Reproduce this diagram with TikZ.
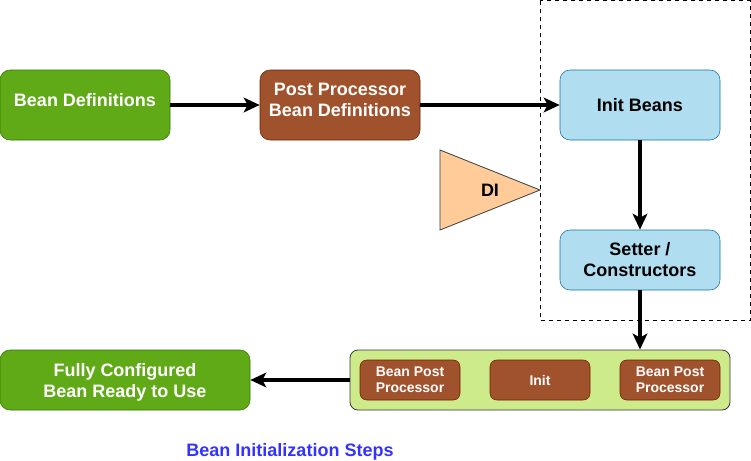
\documentclass[tikz,border=0pt]{standalone}
\usepackage{fontspec}
\setmainfont{Liberation Sans}
\usetikzlibrary{arrows.meta}
\definecolor{gfill}{HTML}{60A917}
\definecolor{gline}{HTML}{2D7600}
\definecolor{bfill}{HTML}{A0522D}
\definecolor{bline}{HTML}{6D1F00}
\definecolor{lbfill}{HTML}{B1DDF0}
\definecolor{lbline}{HTML}{10739E}
\definecolor{lgfill}{HTML}{CDEB8B}
\definecolor{lgline}{HTML}{36393D}
\definecolor{orfill}{HTML}{FFCC99}
\definecolor{titleblue}{HTML}{3333FF}
\tikzset{
  x=0.75pt, y=-0.75pt,
  bigfont/.style={font=\bfseries\fontsize{13.5}{15.75}\selectfont},
  box/.style={rounded corners=7.5pt, align=center, bigfont, inner sep=0pt},
  greenbox/.style={box, draw=gline, fill=gfill, text=white},
  brownbox/.style={box, draw=bline, fill=bfill, text=white},
  bluebox/.style={box, draw=lbline, fill=lbfill, text=black},
  whitetext/.style={bigfont, text=white, align=center, inner sep=0pt},
  smallbrown/.style={brownbox, rounded corners=5pt, font=\bfseries\fontsize{10.5}{12}\selectfont},
  conn/.style={line width=2.6pt, -{Stealth[length=12pt, width=11pt, inset=3pt]}},
}
\begin{document}
\begin{tikzpicture}
\useasboundingbox (0,0) rectangle (751,461);
% dashed container
\draw[dashed, line width=0.6pt] (540,0.5) rectangle (750,320);
\node[greenbox, minimum width=127.5pt, minimum height=52.5pt] (bd) at (85,105) {};
\node[whitetext] (bdt) at ([yshift=3.5pt]bd.center) {Bean Definitions};
\node[brownbox, minimum width=120pt, minimum height=52.5pt] (pp) at (340,105) {};
\node[whitetext] (ppt) at ([yshift=3.5pt]pp.center) {Post Processor\\Bean Definitions};
\node[bluebox, minimum width=120pt, minimum height=52.5pt] (ib) at (640,105) {Init Beans};
\node[bluebox, minimum width=120pt, minimum height=45pt] (sc) at (640,260) {Setter /\\Constructors};
% DI triangle
\coordinate (ditop) at (440,150);
\coordinate (dibot) at (440,230);
\coordinate (ditip) at (540,190);
\draw[draw=lgline, fill=orfill, line width=0.6pt] (ditop) -- (ditip) -- (dibot) -- cycle;
\node[bigfont] (di) at (490,190) {DI};
% init container
\node[draw=lgline, fill=lgfill, rounded corners=6pt, minimum width=285pt, minimum height=45pt, line width=0.6pt] (cont) at (540,380) {};
\node[smallbrown, minimum width=75pt, minimum height=30pt] (bpp1) at (410,380) {Bean Post\\Processor};
\node[smallbrown, minimum width=75pt, minimum height=30pt] (init) at (540,380) {Init};
\node[smallbrown, minimum width=75pt, minimum height=30pt] (bpp2) at (670,380) {Bean Post\\Processor};
\node[greenbox, minimum width=187.5pt, minimum height=45pt] (fc) at (125,380) {};
\node[whitetext] (fct) at ([yshift=-2pt]fc.center) {Fully Configured\\Bean Ready to Use};
\node[bigfont, text=titleblue] (title) at (290,452) {Bean Initialization Steps};
% connectors
\draw[conn] (bd) -- (pp);
\draw[conn] (pp) -- (ib);
\draw[conn] (ib) -- (sc);
\draw[conn] (sc.south) -- (sc.south |- cont.north);
\draw[conn] (cont) -- (fc);
\end{tikzpicture}
\end{document}
